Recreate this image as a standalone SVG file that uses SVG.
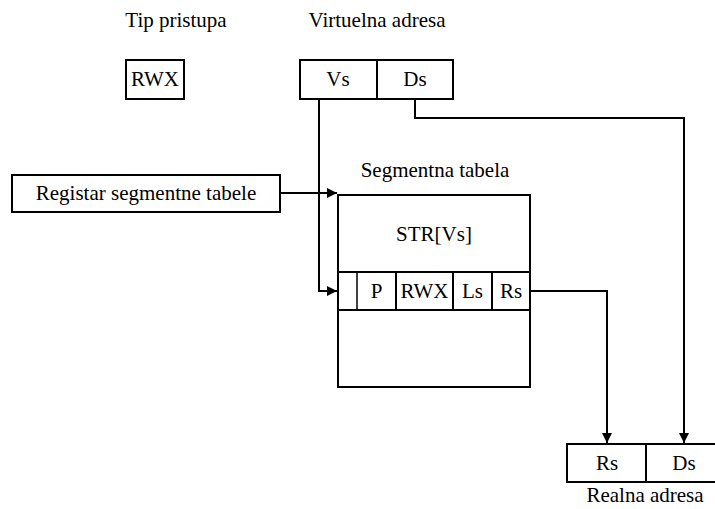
<svg xmlns="http://www.w3.org/2000/svg" width="715" height="509" viewBox="0 0 715 509">
<style>
text{font-family:'Liberation Serif',Tinos,'Times New Roman','Nimbus Roman','DejaVu Serif',serif;font-size:21px;fill:#000;text-anchor:middle}
.box{fill:#fff;stroke:#000;stroke-width:2}
.ln{fill:none;stroke:#000;stroke-width:2}
.conn{fill:none;stroke:#000;stroke-width:2}
</style>
<defs>
<marker id="ah" viewBox="0 0 10 10" refX="10" refY="5" markerWidth="10" markerHeight="10" markerUnits="userSpaceOnUse" orient="auto">
<path d="M0,0 L10,5 L0,10 z" fill="#000"/>
</marker>
</defs>
<g id="labels">
<text x="176" y="27">Tip pristupa</text>
<text x="377" y="27">Virtuelna adresa</text>
<text x="435" y="177">Segmentna tabela</text>
<text x="645" y="502">Realna adresa</text>
</g>
<g id="connectors">
<path class="conn" d="M280,193 H337" marker-end="url(#ah)"/>
<path class="conn" d="M319,99 V291 H337" marker-end="url(#ah)"/>
<path class="conn" d="M530,291 H607 V443" marker-end="url(#ah)"/>
<path class="conn" d="M415,99 V118 H684 V443" marker-end="url(#ah)"/>
</g>
<g id="rwx">
<rect class="box" x="126" y="60" width="58" height="39" stroke-width="2.5"/>
<text x="155" y="86">RWX</text>
</g>
<g id="virtuelna">
<rect class="box" x="300" y="60" width="153" height="39"/>
<line class="ln" x1="377" y1="60" x2="377" y2="99"/>
<text x="338" y="86">Vs</text>
<text x="415" y="86">Ds</text>
</g>
<g id="registar">
<rect class="box" x="12" y="175" width="268" height="37" stroke-width="2.5"/>
<text x="146" y="200">Registar segmentne tabele</text>
</g>
<g id="tabela">
<rect class="box" x="338" y="195" width="192" height="192" stroke-width="2.5"/>
<text x="434" y="241">STR[Vs]</text>
<line class="ln" x1="338" y1="272" x2="530" y2="272"/>
<line class="ln" x1="338" y1="310" x2="530" y2="310"/>
<line x1="357" y1="272" x2="357" y2="310" stroke="#000" stroke-width="1.5"/>
<line class="ln" x1="396" y1="272" x2="396" y2="311"/>
<line class="ln" x1="453" y1="272" x2="453" y2="311"/>
<line class="ln" x1="492" y1="272" x2="492" y2="311"/>
<text x="376.5" y="298">P</text>
<text x="424.5" y="298">RWX</text>
<text x="472.5" y="298">Ls</text>
<text x="511" y="298">Rs</text>
</g>
<g id="realna">
<rect class="box" x="567" y="444" width="155" height="38" stroke-width="2.5"/>
<line class="ln" x1="646" y1="444" x2="646" y2="482"/>
<text x="607" y="470">Rs</text>
<text x="684" y="470">Ds</text>
</g>
</svg>
